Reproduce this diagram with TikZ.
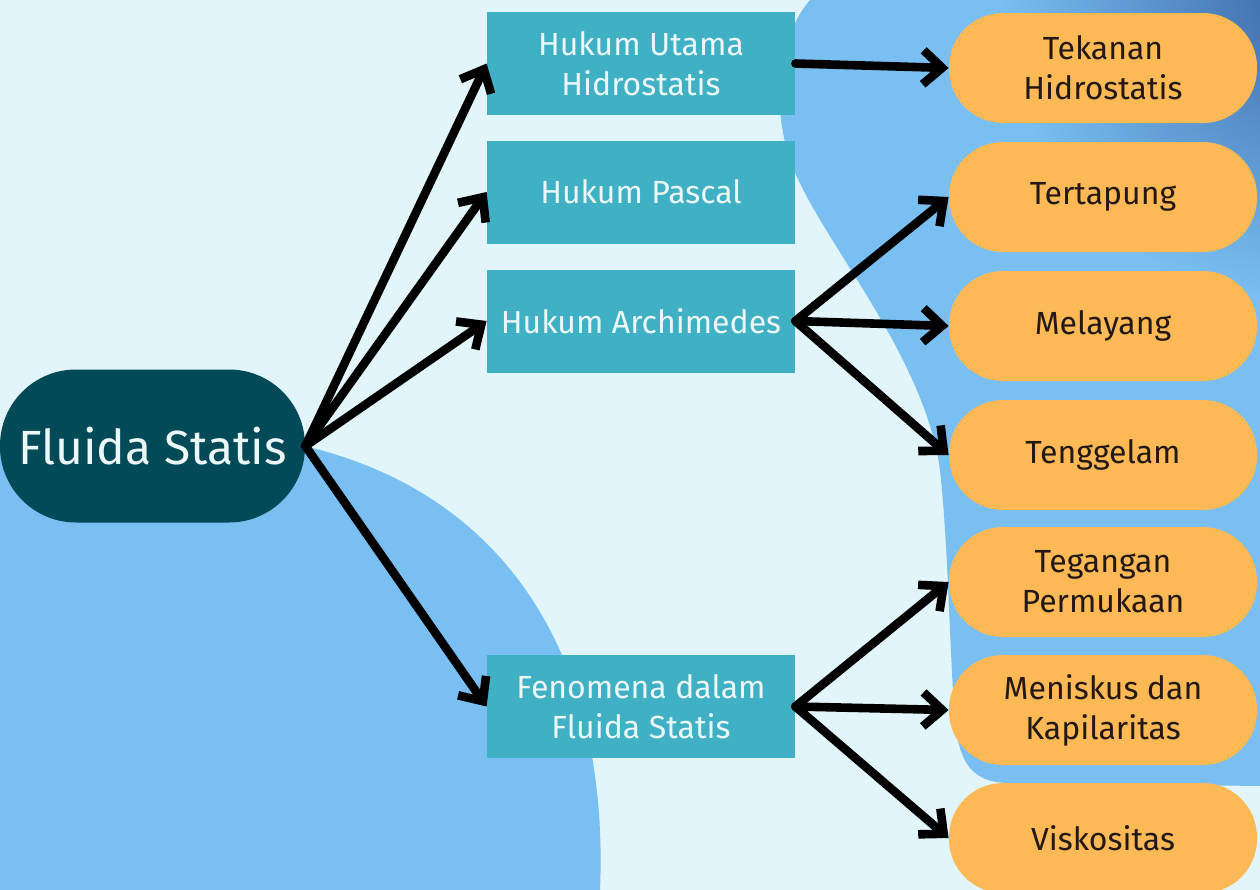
\documentclass[tikz,border=0pt]{standalone}
\usepackage{fontspec}
\setmainfont{Fira Sans}
\usetikzlibrary{arrows.meta}
\definecolor{latar}{RGB}{226,245,250}
\definecolor{gumpal}{RGB}{121,191,242}
\definecolor{gumpalgelap}{RGB}{62,106,168}
\definecolor{tosca}{RGB}{64,176,196}
\definecolor{pekat}{RGB}{3,74,89}
\definecolor{jingga}{RGB}{253,185,85}
\definecolor{putih}{RGB}{236,247,248}
\definecolor{tinta}{RGB}{35,24,21}
\def\gumpalkiri{(0,452) -- (300,445) .. controls (500,490) and (610,650) .. (600,890) -- (0,890) -- cycle}
\def\gumpalkanan{(810,0) .. controls (775,40) and (770,120) .. (797,177) .. controls (830,250) and (925,360) .. (940,470) .. controls (950,560) and (950,700) .. (958,740) .. controls (965,775) and (985,783) .. (1010,783) -- (1262,786) -- (1262,0) -- cycle}
\begin{document}
\begin{tikzpicture}[x=0.5pt,y=-0.5pt,>={Straight Barb[length=9.5pt,width=17pt]}, line join=round, line cap=round,
	utama/.style={fill=pekat, text=putih, rounded corners=38pt, minimum width=152.5pt, minimum height=76.5pt, inner sep=0pt, font=\fontsize{24}{28}\selectfont},
	hukum/.style={fill=tosca, text=putih, minimum width=154pt, minimum height=51.5pt, inner sep=0pt, align=center, font=\fontsize{16}{20}\selectfont},
	hasil/.style={fill=jingga, text=tinta, rounded corners=27pt, minimum width=154pt, minimum height=55pt, inner sep=0pt, align=center, font=\fontsize{16}{20}\selectfont},
	panah/.style={->, line width=4.3pt}]
	\useasboundingbox (0,0) rectangle (1260,890);
	% latar belakang
	\fill[latar] (0,0) rectangle (1260,890);
	\fill[gumpal] \gumpalkiri;
	\fill[gumpal] \gumpalkanan;
	\begin{scope}
		\clip \gumpalkanan;
		\shade[inner color=gumpalgelap, outer color=gumpal] (1300,0) circle (150pt);
	\end{scope}
	% node
	\node[utama] (fluida) at (152.5,446) {Fluida Statis};
	\node[hukum] (hidro) at (641,63.5) {Hukum Utama\\Hidrostatis};
	\node[hukum] (pascal) at (641,192) {Hukum Pascal};
	\node[hukum] (archi) at (641,321) {Hukum Archimedes};
	\node[hukum] (fenom) at (641,706.5) {Fenomena dalam\\Fluida Statis};
	\node[hasil] (tekanan) at (1103,68) {Tekanan\\Hidrostatis};
	\node[hasil] (apung) at (1103,197) {Tertapung};
	\node[hasil] (layang) at (1103,326) {Melayang};
	\node[hasil] (tenggelam) at (1103,455) {Tenggelam};
	\node[hasil] (tegangan) at (1103,582) {Tegangan\\Permukaan};
	\node[hasil] (meniskus) at (1103,710) {Meniskus dan\\Kapilaritas};
	\node[hasil] (viskos) at (1103,838) {Viskositas};
	% panah
	\foreach \t in {hidro,pascal,archi,fenom}
	\draw[panah] (fluida.east)--(\t.west);
	\draw[panah] (hidro.east)--(tekanan.west);
	\foreach \t in {apung,layang,tenggelam}
	\draw[panah] (archi.east)--(\t.west);
	\foreach \t in {tegangan,meniskus,viskos}
	\draw[panah] (fenom.east)--(\t.west);
\end{tikzpicture}
\end{document}
